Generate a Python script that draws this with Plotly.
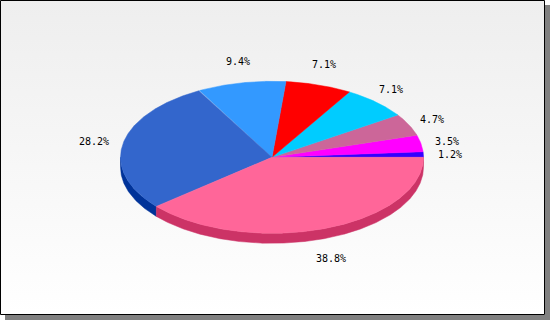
import numpy as np
import plotly.graph_objects as go

# ---- data ----
values = [1, 3, 4, 6, 6, 8, 24, 33]
top_colors = ["#3300ff", "#ff00ff", "#cc6699", "#00ccff",
              "#ff0000", "#3399ff", "#3366cc", "#ff6699"]

# ---- geometry / style ----
W, H = 550, 320
CX, CY = 272.0, 157.3
RX, RY = 151.5, 76.0
DEPTH = 10.0
FR, FB = 545.0, 315.0      # frame right / bottom
SH = 5.0                   # shadow offset
FONT = dict(family="DejaVu Sans Mono", size=10, color="#000000")
CHAR_W, TEXT_H = 6.0, 10.0


def darker(hexc, d=0x33):
    rgb = [int(hexc[i:i + 2], 16) for i in (1, 3, 5)]
    return "#%02x%02x%02x" % tuple(max(0, c - d) for c in rgb)


def ell(t, dy=0.0):
    return CX + RX * np.cos(t), CY - RY * np.sin(t) + dy


total = float(sum(values))
fracs = [v / total for v in values]
labels = [f"{100 * f:.1f}%" for f in fracs]
bounds = np.concatenate([[0.0], np.cumsum(fracs)]) * 2 * np.pi

fig = go.Figure()

# drop shadow
fig.add_shape(type="rect", x0=SH, x1=W, y0=SH, y1=H, fillcolor="#808080",
              line_width=0, layer="below")

# gradient background inside frame
fig.add_trace(go.Scatter(
    x=[0, FR, FR, 0, 0], y=[0, 0, FB, FB, 0], mode="lines",
    line=dict(width=0, color="rgba(0,0,0,0)"), fill="toself",
    fillgradient=dict(type="vertical", start=0, stop=FB,
                      colorscale=[[0, "#eeeeee"], [1, "#ffffff"]]),
    hoverinfo="skip", showlegend=False))

# sides (front half only)
for i, col in enumerate(top_colors):
    a0, a1 = bounds[i], bounds[i + 1]
    s0, s1 = max(a0, np.pi), min(a1, 2 * np.pi)
    if s1 <= s0:
        continue
    t = np.linspace(s0, s1, max(4, int((s1 - s0) * 180)))
    xt, yt = ell(t)
    xb, yb = ell(t[::-1], DEPTH)
    xs = np.concatenate([xt, xb, xt[:1]])
    ys = np.concatenate([yt, yb, yt[:1]])
    sc = darker(col)
    fig.add_trace(go.Scatter(x=xs, y=ys, mode="lines", fill="toself",
                             fillcolor=sc, line=dict(width=0.5, color=sc),
                             hoverinfo="skip", showlegend=False))

# top surfaces
for i, col in enumerate(top_colors):
    a0, a1 = bounds[i], bounds[i + 1]
    t = np.linspace(a0, a1, max(4, int((a1 - a0) * 180)))
    xe, ye = ell(t)
    xs = np.concatenate([[CX], xe, [CX]])
    ys = np.concatenate([[CY], ye, [CY]])
    fig.add_trace(go.Scatter(x=xs, y=ys, mode="lines", fill="toself",
                             fillcolor=col, line=dict(width=0.5, color=col),
                             hoverinfo="skip", showlegend=False))

# labels
for i, lab in enumerate(labels):
    mid = 0.5 * (bounds[i] + bounds[i + 1])
    w = CHAR_W * len(lab)
    rx = RX + w / 2 + 15 * abs(np.cos(mid))
    ry = RY + TEXT_H / 2 + 17 * abs(np.sin(mid))
    lx = CX + rx * np.cos(mid)
    ly = CY - ry * np.sin(mid) + (DEPTH if np.sin(mid) < 0 else 0)
    fig.add_annotation(x=lx, y=ly, text=lab, showarrow=False, font=FONT,
                       xanchor="center", yanchor="middle")

# frame border
fig.add_shape(type="rect", x0=0.5, x1=FR - 0.5, y0=0.5, y1=FB - 0.5,
              line=dict(color="#000000", width=1), fillcolor="rgba(0,0,0,0)",
              layer="above")

fig.update_layout(
    width=W, height=H, autosize=False,
    margin=dict(l=0, r=0, t=0, b=0, pad=0),
    paper_bgcolor="#ffffff", plot_bgcolor="#ffffff",
    xaxis=dict(range=[0, W], visible=False, fixedrange=True),
    yaxis=dict(range=[H, 0], visible=False, fixedrange=True),
    showlegend=False,
)

fig.write_html("out.html", config={"displayModeBar": False})
